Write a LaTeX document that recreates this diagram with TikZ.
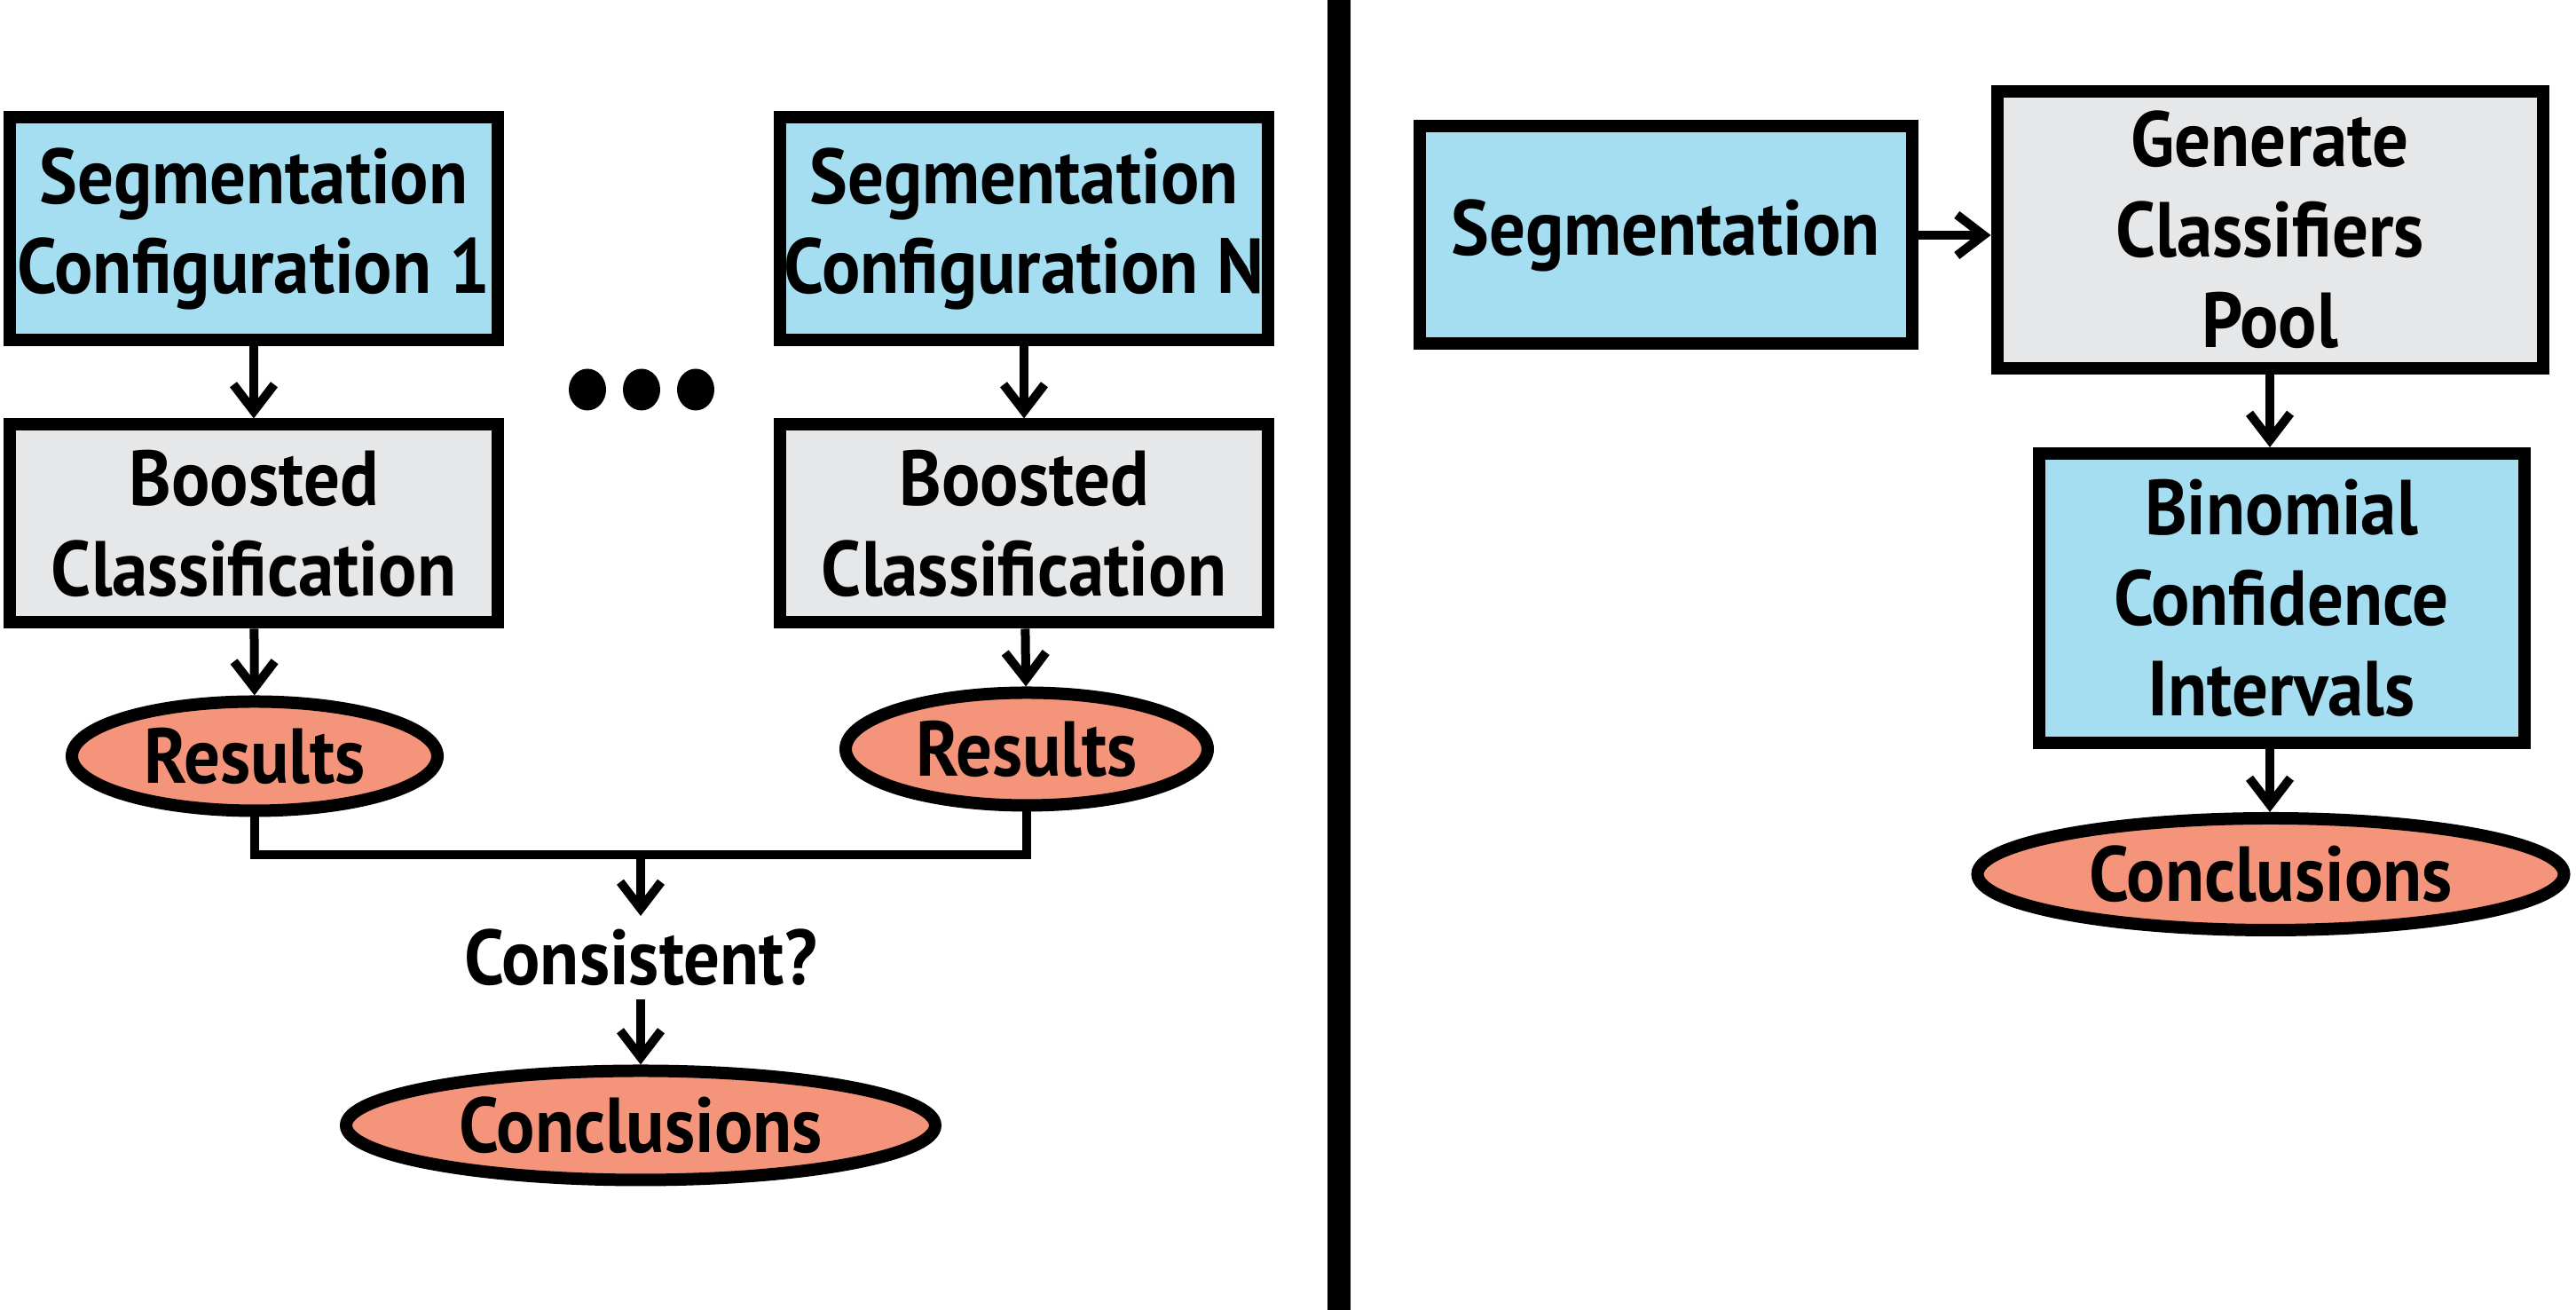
\documentclass[tikz,border=0pt]{standalone}
\usepackage{fontspec}
\setmainfont{PT Sans}[FakeStretch=0.92]
\usetikzlibrary{shapes.geometric,arrows.meta}
\definecolor{segblue}{RGB}{165,221,241}
\definecolor{poolgray}{RGB}{230,231,232}
\definecolor{resalmon}{RGB}{244,148,122}
\begin{document}
\begin{tikzpicture}[line width=0.14cm,
    every node/.style={font=\fontsize{25}{29}\selectfont\bfseries, align=center, inner sep=0pt},
    segbox/.style={draw, fill=segblue, minimum width=5.5cm, minimum height=2.51cm},
    boostbox/.style={draw, fill=poolgray, minimum width=5.5cm, minimum height=2.23cm},
    result/.style={draw, ellipse, fill=resalmon, minimum width=4.12cm, minimum height=1.23cm},
    arr/.style={line width=0.1cm, -{Straight Barb[length=0.3cm, width=0.46cm, line width=0.1cm]}}]
        \useasboundingbox (0, 0) rectangle (29.03, 14.76);
        \node [segbox] (seg1) at (2.86, 12.18) {Segmentation\\Configuration 1};
        \node [segbox] (segN) at (11.54, 12.18) {Segmentation\\Configuration N};
        \foreach \dx in {-0.61, 0, 0.61}
          \fill (7.23 + \dx, 10.37) ellipse [x radius = 0.21, y radius = 0.235];
        \node [boostbox] (boost1) at (2.86, 8.86) {Boosted\\Classification};
        \node [boostbox] (boostN) at (11.54, 8.86) {Boosted\\Classification};
        \node [result] (res1) at (2.87, 6.24) {Results};
        \node [result, minimum width=4.08cm, minimum height=1.27cm] (resN) at (11.57, 6.32) {Results};
        \coordinate (join) at (7.22, 5.13);
        \node [inner sep=0.08cm] (consistent) at (7.22, 3.97) {Consistent?};
        \node [result, minimum width=6.64cm, minimum height=1.23cm] (concl1) at (7.22, 2.08) {Conclusions};
        \draw [arr] (seg1) -- (boost1);
        \draw [arr] (segN) -- (boostN);
        \draw [arr] (boost1) -- (res1);
        \draw [arr] (boostN) -- (resN);
        \draw [line width=0.1cm] (res1.south) |- (join) -| (resN.south);
        \draw [arr] (join) -- (consistent);
        \draw [arr] (consistent) -- (concl1);
        \draw [line width=0.26cm] (15.09, 0) -- (15.09, 14.76);
        \node [segbox, minimum width=5.55cm, minimum height=2.45cm] (seg) at (18.77, 12.11) {Segmentation};
        \node [boostbox, minimum width=6.15cm, minimum height=3.12cm] (pool) at (25.58, 12.17) {Generate\\Classifiers\\Pool};
        \node [segbox, minimum width=5.47cm, minimum height=3.26cm] (binom) at (25.71, 8.02) {Binomial\\Confidence\\Intervals};
        \node [result, minimum width=6.61cm, minimum height=1.26cm] (concl2) at (25.59, 4.91) {Conclusions};
        \draw [arr] (seg.east) -- (seg.east -| pool.west);
        \draw [arr] (pool.south) -- (pool.south |- binom.north);
        \draw [arr] (pool.south |- binom.south) -- (pool.south |- concl2.north);
      \end{tikzpicture}
\end{document}
